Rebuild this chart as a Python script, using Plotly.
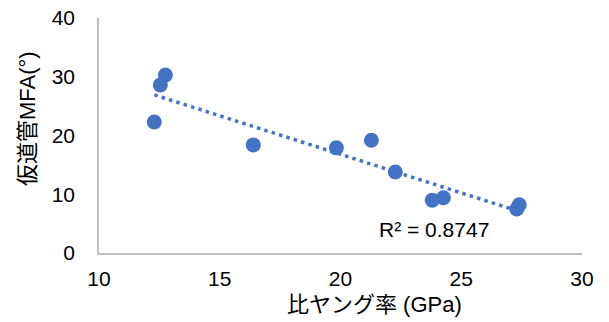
import numpy as np
import plotly.graph_objects as go

# Data
young = [12.29, 12.54, 12.75, 16.39, 19.83, 21.28, 22.27, 23.80, 24.26, 27.30, 27.40]
mfa = [22.3, 28.6, 30.3, 18.4, 17.9, 19.2, 13.8, 9.0, 9.4, 7.5, 8.2]
x_ticks = [10, 15, 20, 25, 30]
y_ticks = [0, 10, 20, 30, 40]
r2_label = "R² = 0.8747"
x_title = "比ヤング率 (GPa)"
y_title = "仮道管MFA(°)"

# Linear trendline (least squares), drawn from min to max x
slope, intercept = np.polyfit(young, mfa, 1)
tx = [min(young), max(young)]
ty = [slope * v + intercept for v in tx]

W, H = 609, 322
L, R, T, B = 99, 27, 18, 69
pw, ph = W - L - R, H - T - B

FONT = "Liberation Sans, Arial, Noto Sans CJK JP"
COLOR = "#4472C4"

fig = go.Figure()
fig.add_trace(go.Scatter(
    x=tx, y=ty, mode="lines",
    line=dict(color=COLOR, width=3.5, dash="3.5px,4.2px"),
    hoverinfo="skip", showlegend=False,
))
fig.add_trace(go.Scatter(
    x=young, y=mfa, mode="markers",
    marker=dict(color=COLOR, size=15, line=dict(width=0)),
    showlegend=False,
))

def px_to_paper_x(px):
    return (px - L) / pw

def px_to_paper_y(py):
    return (H - B - py) / ph

fig.update_layout(
    width=W, height=H,
    margin=dict(l=L, r=R, t=T, b=B, pad=0, autoexpand=False),
    paper_bgcolor="white", plot_bgcolor="white",
    font=dict(family=FONT, size=21, color="#000000"),
    showlegend=False,
    xaxis=dict(
        range=[10, 30], tickvals=x_ticks, showgrid=False, zeroline=False,
        showline=True, linecolor="#BFBFBF", linewidth=1.5, ticks="",
        tickfont=dict(family=FONT, size=21, color="#000000"),
        ticklabelstandoff=6, automargin=False, ticklabeloverflow="allow",
    ),
    yaxis=dict(
        range=[0, 40], tickvals=y_ticks, showgrid=False, zeroline=False,
        showline=True, linecolor="#BFBFBF", linewidth=1.5, ticks="",
        tickfont=dict(family=FONT, size=21, color="#000000"),
        ticklabelstandoff=18, automargin=False, ticklabeloverflow="allow",
    ),
    annotations=[
        dict(text=x_title, xref="paper", yref="paper",
             x=px_to_paper_x(374), y=px_to_paper_y(305),
             xanchor="center", yanchor="middle", showarrow=False,
             font=dict(family=FONT, size=22, color="#000000")),
        dict(text=y_title, xref="paper", yref="paper",
             x=px_to_paper_x(27.5), y=px_to_paper_y(118.5),
             xanchor="center", yanchor="middle", showarrow=False, textangle=-90,
             font=dict(family=FONT, size=22, color="#000000")),
        dict(text=r2_label, xref="x", yref="y", x=23.86, y=4.08,
             xanchor="center", yanchor="middle", showarrow=False,
             font=dict(family=FONT, size=21, color="#000000")),
    ],
)

# Remove the default 8px page margin so the figure fills the window exactly.
fig.write_html(
    "out.html",
    config={"displayModeBar": False},
    post_script="document.body.style.margin='0';document.body.style.overflow='hidden';",
)
